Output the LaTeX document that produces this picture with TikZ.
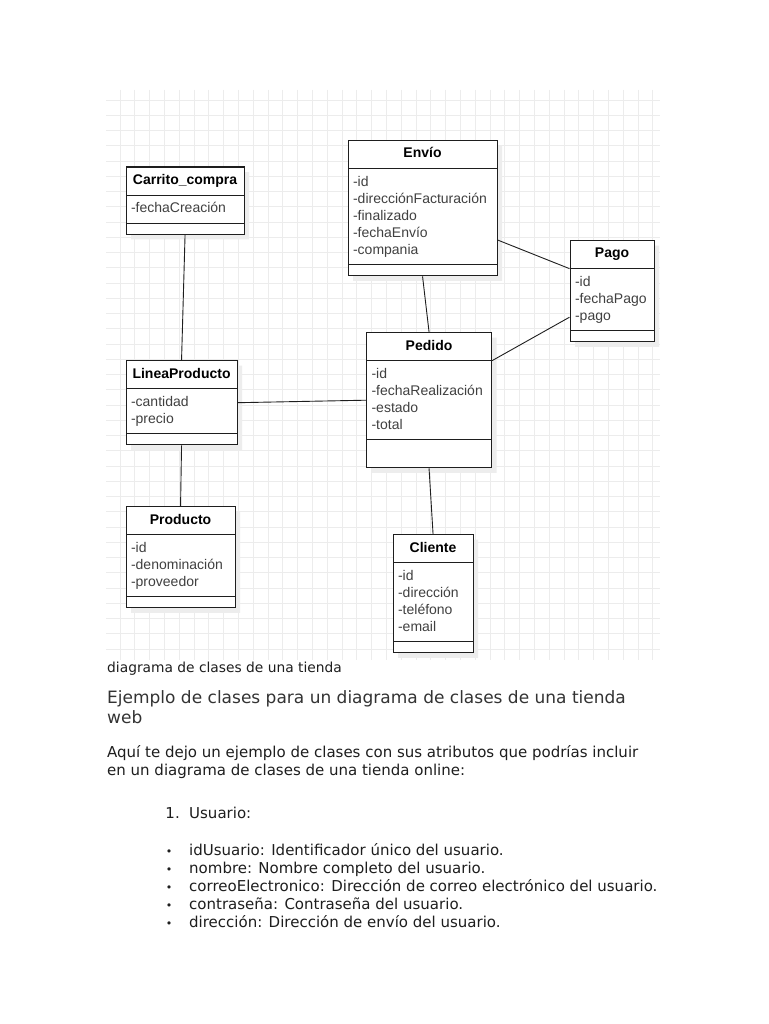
\documentclass[tikz,border=0pt]{standalone}
\usepackage{fontspec}
\setmainfont{DejaVu Sans}
\newfontfamily\umlfont{Liberation Sans}
\usetikzlibrary{positioning,shapes.multipart,shadows}
\definecolor{gridgray}{RGB}{236,236,236}
\definecolor{inkgray}{RGB}{30,30,30}
\definecolor{attrgray}{RGB}{64,64,64}
\definecolor{headgray}{RGB}{51,51,51}
\tikzset{
  uml/.style={rectangle split, rectangle split parts=3, draw=inkgray, line width=1.1pt,
              fill=white, anchor=north west, inner xsep=5pt, inner ysep=5pt,
              rectangle split part align={center,left,left},
              font=\umlfont\fontsize{14}{17}\selectfont, text=attrgray,
              drop shadow={shadow xshift=5pt, shadow yshift=-5pt, fill=black!7, opacity=1}},
  assoc/.style={draw=inkgray, line width=0.9pt},
  gridline/.style={draw=gridgray, line width=0.8pt},
  caption/.style={inner sep=0pt, anchor=base west, text=inkgray, font=\fontsize{13.8}{16}\selectfont},
  heading/.style={inner sep=0pt, anchor=base west, text=headgray, font=\fontsize{17}{20}\selectfont},
  para/.style={inner sep=0pt, anchor=base west, text=inkgray, font=\fontsize{15}{18}\selectfont}
}
\newcommand{\cname}[1]{\textcolor{black}{\bfseries\strut#1}}
\newcommand{\cattr}[1]{\begin{tabular}{@{}l@{}}#1\end{tabular}}
\newcommand{\cnone}{\rule{0.1pt}{0pt}}

\begin{document}
\begin{tikzpicture}[x=1pt, y=-1pt]
  \fill[white] (0,0) rectangle (768,1024);
  \useasboundingbox (0,0) rectangle (768,1024);
  % grid
  \foreach \i in {0,...,36} \draw[gridline] ({120+14.8*\i},90) -- ({120+14.8*\i},660);
  \foreach \j in {0,...,36} \draw[gridline] (106,{100+15.25*\j}) -- (660,{100+15.25*\j});

  % classes
  \node[uml, minimum width=118pt] (carrito) at (125.5,166.5) {\cname{Carrito\_compra} \nodepart{second} \cattr{-fechaCreación} \nodepart{third} \cnone};
  \node[uml, minimum width=149pt] (envio) at (347.5,140) {\cname{Envío} \nodepart{second} \cattr{-id\\-direcciónFacturación\\-finalizado\\-fechaEnvío\\-compania} \nodepart{third} \cnone};
  \node[uml, minimum width=84pt] (pago) at (569.5,240) {\cname{Pago} \nodepart{second} \cattr{-id\\-fechaPago\\-pago} \nodepart{third} \cnone};
  \node[uml, minimum width=111pt] (linea) at (125.5,360) {\cname{LineaProducto} \nodepart{second} \cattr{-cantidad\\-precio} \nodepart{third} \cnone};
  \node[uml, minimum width=125pt] (pedido) at (366,332) {\cname{Pedido} \nodepart{second} \cattr{-id\\-fechaRealización\\-estado\\-total} \nodepart{third} \strut};
  \node[uml, minimum width=109pt] (producto) at (125.5,506) {\cname{Producto} \nodepart{second} \cattr{-id\\-denominación\\-proveedor} \nodepart{third} \cnone};
  \node[uml, minimum width=80pt] (cliente) at (392.5,534) {\cname{Cliente} \nodepart{second} \cattr{-id\\-dirección\\-teléfono\\-email} \nodepart{third} \cnone};

  % associations
  \draw[assoc] (carrito.south) -- (linea.north);
  \draw[assoc] (linea.south) -- (producto.north);
  \draw[assoc] (linea.east) -- (pedido.west);
  \draw[assoc] (envio.south) -- (pedido.north);
  \draw[assoc] (pedido.south) -- (cliente.north);
  \draw[assoc] (envio.east |- pago.north) -- (pago.text split west);
  \draw[assoc] (pedido.text split east) -- ([yshift=-26pt]pago.west);

  % text below the diagram
  \node[caption] (cap) at (107,672) {diagrama de clases de una tienda};
  \node[heading] (head1) at (107,703) {Ejemplo de clases para un diagrama de clases de una tienda};
  \node[heading] (head2) at (107,723) {web};
  \node[para] (intro1) at (107,757) {Aquí te dejo un ejemplo de clases con sus atributos que podrías incluir};
  \node[para] (intro2) at (107,775) {en un diagrama de clases de una tienda online:};
  \node[para, anchor=base east] (num) at (180,818) {1.};
  \node[para] (usuario) at (189,818) {Usuario:};
  \foreach \t [count=\k] in {idUsuario: Identificador único del usuario.,
      nombre: Nombre completo del usuario.,
      correoElectronico: Dirección de correo electrónico del usuario.,
      contraseña: Contraseña del usuario.,
      dirección: Dirección de envío del usuario.} {
    \node[para] (item\k) at (189,{837+18*\k}) {\t};
    \node[para, anchor=base, font=\fontsize{11}{13}\selectfont] (dot\k) at (169,{837+18*\k}) {•};
  }
\end{tikzpicture}
\end{document}
